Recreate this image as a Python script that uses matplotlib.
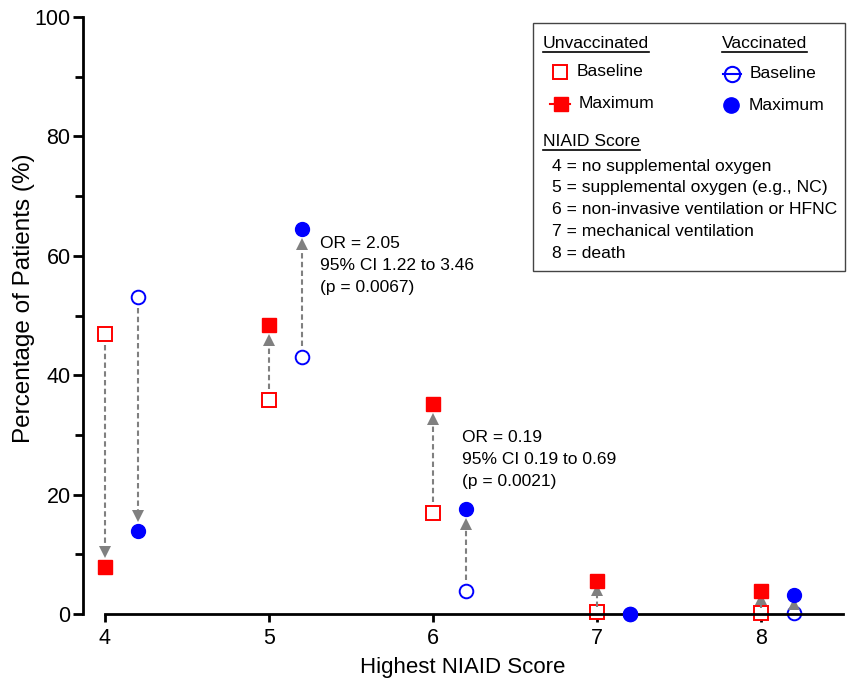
import matplotlib
matplotlib.use("Agg")
import matplotlib.pyplot as plt
from matplotlib.patches import Rectangle

plt.rcParams['font.family'] = ['Liberation Sans', 'DejaVu Sans']

# ---- data ----
niaid_scores = [4, 5, 6, 7, 8]
vacc_offset = 0.2
unvacc_baseline = [46.9, 35.8, 16.9, 0.4, 0.2]
unvacc_maximum = [7.9, 48.4, 35.2, 5.5, 3.9]
vacc_baseline = [53.1, 43.0, 3.9, 0.0, 0.2]
vacc_maximum = [13.9, 64.5, 17.6, 0.0, 3.2]
yticks = [0, 20, 40, 60, 80, 100]
ann1 = "OR = 2.05\n95% CI 1.22 to 3.46\n(p = 0.0067)"
ann2 = "OR = 0.19\n95% CI 0.19 to 0.69\n(p = 0.0021)"
legend_lines = ["4 = no supplemental oxygen",
                "5 = supplemental oxygen (e.g., NC)",
                "6 = non-invasive ventilation or HFNC",
                "7 = mechanical ventilation",
                "8 = death"]

RED = "#ff0000"
BLUE = "#0000ff"
GRAY = "#808080"

W, H = 851, 678
fig = plt.figure(figsize=(W / 100, H / 100), dpi=100)
ax = fig.add_axes([83 / W, 1 - 614 / H, (843 - 83) / W, (614 - 17) / H])
ax.set_xlim(3.866, 8.5)
ax.set_ylim(0, 100)
PX = (614 - 17) / 100.0  # pixels per y unit

for s in ["top", "right"]:
    ax.spines[s].set_visible(False)
ax.spines["left"].set_linewidth(2)
ax.spines["bottom"].set_linewidth(2)
ax.spines["bottom"].set_bounds(4, 8.5)
ax.set_yticks(yticks)
ax.set_yticks([10, 30, 50, 70, 90], minor=True)
ax.set_xticks(niaid_scores)
ax.tick_params(axis="y", which="major", length=7, width=2, labelsize=15.5, pad=2)
ax.tick_params(axis="y", which="minor", length=6, width=2)
ax.tick_params(axis="x", which="major", length=6, width=2, labelsize=15.5, pad=4)
fig.text(24 / W, 1 - 298 / H, "Percentage of Patients (%)", fontsize=17.5,
         rotation=90, ha="center", va="center")
ax.set_xlabel("Highest NIAID Score", fontsize=16, labelpad=6)

vx = [x + vacc_offset for x in niaid_scores]


def arrow(x, y0, y1):
    d = abs(y1 - y0)
    if d < 1:
        return
    sgn = 1 if y1 > y0 else -1
    if d * PX > 60:
        g0, g1 = 11, 9
    else:
        g0, g1 = 5, 3
    head = 11.5
    start = y0 + sgn * g0 / PX
    tip = y1 - sgn * g1 / PX
    base = tip - sgn * head / PX
    if (base - start) * sgn > 0:
        ax.plot([x, x], [start, base + sgn * 1 / PX], color=GRAY, lw=1.5,
                ls=(0, (2.6, 1.6)), clip_on=False, zorder=3, solid_capstyle="butt")
    ax.plot([x], [tip - sgn * head / 2 / PX], marker="^" if sgn > 0 else "v",
            ms=8.3, mfc=GRAY, mec=GRAY, mew=0, ls="none", clip_on=False, zorder=3)


for x, a, b in zip(niaid_scores, unvacc_baseline, unvacc_maximum):
    arrow(x, a, b)
for x, a, b in zip(vx, vacc_baseline, vacc_maximum):
    arrow(x, a, b)

ax.plot(niaid_scores, unvacc_baseline, "s", ms=9.5, mfc="white", mec=RED, mew=1.4,
        ls="none", clip_on=False, zorder=2.5)
ax.plot(niaid_scores, unvacc_maximum, "s", ms=9.5, mfc=RED, mec=RED, mew=1.0,
        ls="none", clip_on=False, zorder=4)
ax.plot(vx, vacc_baseline, "o", ms=9.8, mfc="white", mec=BLUE, mew=1.4,
        ls="none", clip_on=False, zorder=2.5)
ax.plot(vx, vacc_maximum, "o", ms=10, mfc=BLUE, mec=BLUE, mew=1.0,
        ls="none", clip_on=False, zorder=4)

ax.text(5.313, 63.4, ann1, fontsize=12.5, va="top", ha="left", linespacing=1.62)
ax.text(6.174, 30.8, ann2, fontsize=12.5, va="top", ha="left", linespacing=1.58)

# ---- legend box ----
lx0, ly0, lx1, ly1 = 532, 22, 846, 272
lax = fig.add_axes([lx0 / W, 1 - ly1 / H, (lx1 - lx0) / W, (ly1 - ly0) / H])
lax.set_xlim(lx0, lx1)
lax.set_ylim(ly1, ly0)
lax.axis("off")
lax.add_patch(Rectangle((lx0 + 0.5, ly0 + 0.5), lx1 - lx0 - 1.5, ly1 - ly0 - 1.5,
                        fill=False, ec="#444444", lw=1.0, clip_on=False))

LFS = 12.6
heads = [(543, 43.5, "Unvaccinated"), (722, 43.5, "Vaccinated"), (543, 142, "NIAID Score")]
head_texts = []
for x, y, t in heads:
    head_texts.append(lax.text(x, y, t, fontsize=LFS, va="center", ha="left"))

lax.plot([560], [72], "s", ms=10, mfc="white", mec=RED, mew=1.4)
lax.text(577, 72, "Baseline", fontsize=LFS, va="center", ha="left")
lax.plot([550, 570], [104, 104], "-", color=RED, lw=1.5)
lax.plot([561], [104], "s", ms=10, mfc=RED, mec=RED)
lax.text(579, 104, "Maximum", fontsize=LFS, va="center", ha="left")
lax.plot([723, 741], [74, 74], "-", color=BLUE, lw=1.5)
lax.plot([732], [74], "o", ms=11, mfc="none", mec=BLUE, mew=1.5)
lax.text(750, 74, "Baseline", fontsize=LFS, va="center", ha="left")
lax.plot([731], [105], "o", ms=11, mfc=BLUE, mec=BLUE)
lax.text(749, 105, "Maximum", fontsize=LFS, va="center", ha="left")

for i, t in enumerate(legend_lines):
    lax.text(552, 166 + i * 21.8, t, fontsize=12.6, va="center", ha="left")

# underline headers
fig.canvas.draw()
r = fig.canvas.get_renderer()
inv = lax.transData.inverted()
for t in head_texts:
    bb = t.get_window_extent(r)
    (x0, y0), (x1, y1) = inv.transform([[bb.x0, bb.y0], [bb.x1, bb.y1]])
    lax.plot([x0, x1], [y0 + 0.5, y0 + 0.5], "-", color="black", lw=1.2)

fig.savefig("out.png", dpi=100)
